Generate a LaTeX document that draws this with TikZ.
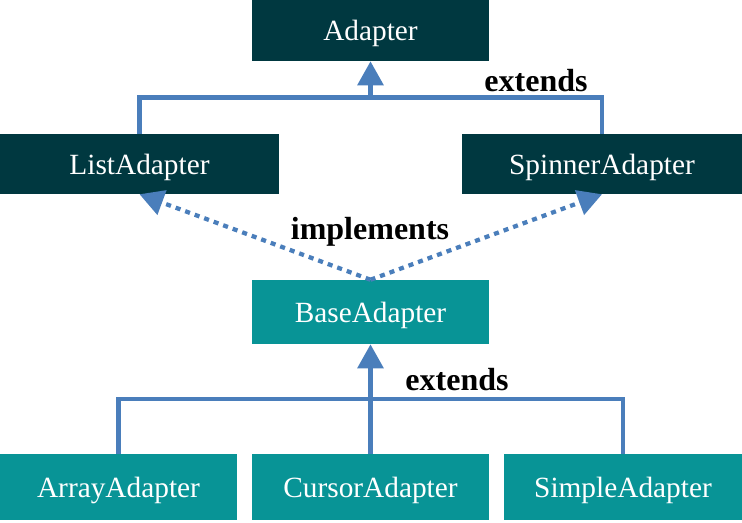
\documentclass[tikz,border=0pt]{standalone}
\usepackage{fontspec}
\setmainfont{Liberation Serif}
\usetikzlibrary{arrows.meta}
\definecolor{darkteal}{RGB}{0,56,64}
\definecolor{lightteal}{RGB}{8,148,150}
\definecolor{linkblue}{RGB}{74,126,187}
\begin{document}
\begin{tikzpicture}[x=0.75pt,y=-0.75pt,
    classbox/.style={fill=#1,text=white,inner sep=0pt,minimum height=45pt,
      text depth=0pt,font=\fontsize{22}{26}\selectfont},
    link/.style={draw=linkblue,line width=3.6pt},
    realize/.style={link,line width=3.2pt,dash pattern=on 3.8pt off 3.8pt},
    tip/.style={-{Triangle[length=18pt,width=19pt]}},
    relname/.style={inner sep=0pt,font=\fontsize{24}{28}\selectfont\bfseries}]
  \useasboundingbox (0,0) rectangle (742,523);

  \node[classbox=darkteal,minimum width=177.75pt,minimum height=45.75pt] (adapter) at (370.5,30.5) {Adapter};
  \node[classbox=darkteal,minimum width=209.25pt] (list) at (139.5,164) {ListAdapter};
  \node[classbox=darkteal,minimum width=210pt] (spinner) at (602,164) {SpinnerAdapter};
  \node[classbox=lightteal,minimum width=177.75pt,minimum height=48pt] (base) at (370.5,312) {BaseAdapter};
  \node[classbox=lightteal,minimum width=177.75pt,minimum height=49.5pt] (array) at (118.5,487) {ArrayAdapter};
  \node[classbox=lightteal,minimum width=177.75pt,minimum height=49.5pt] (cursor) at (370.5,487) {CursorAdapter};
  \node[classbox=lightteal,minimum width=178.5pt,minimum height=49.5pt] (simple) at (623,487) {SimpleAdapter};

  \coordinate (topbar) at (370.5,97.5);
  \coordinate (lowbar) at (370.5,399);

  \draw[link] (list.north) |- (topbar) -| (spinner.north);
  \draw[link,tip] (topbar) -- (adapter.south);

  \draw[realize,tip] (base.north) -- (list.south);
  \draw[realize,tip] (base.north) -- (spinner.south);

  \draw[link] (array.north) |- (lowbar) -| (simple.north);
  \draw[link,tip] (cursor.north) -- (base.south);

  \node[relname] (extup) at (536,81) {extends};
  \node[relname] (impl) at (370,232) {implements};
  \node[relname] (extlow) at (457,380) {extends};
\end{tikzpicture}
\end{document}
